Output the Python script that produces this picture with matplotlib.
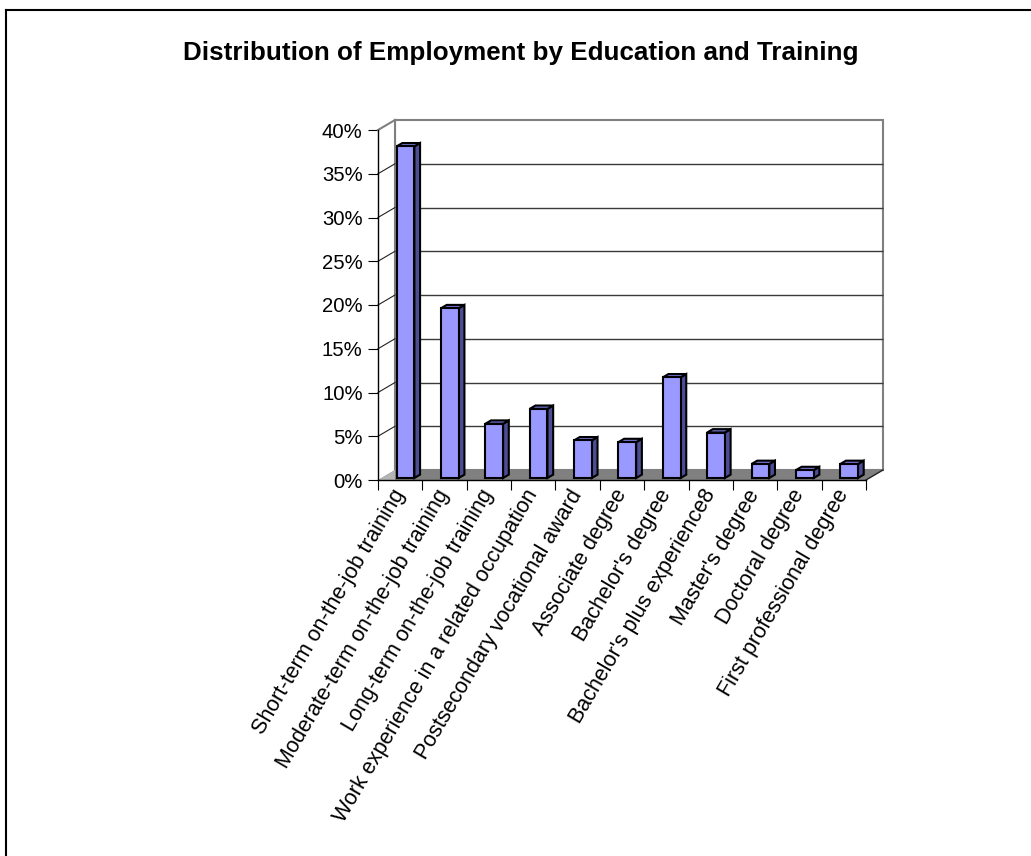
import matplotlib
matplotlib.use("Agg")
import matplotlib.pyplot as plt
from matplotlib.patches import Polygon, Rectangle
from matplotlib.lines import Line2D
from matplotlib.ticker import FuncFormatter, FixedLocator

plt.rcParams['font.family'] = ['Liberation Sans', 'DejaVu Sans']

# education / training categories and their share of employment (%)
categories = [
    "Short-term on-the-job training",
    "Moderate-term on-the-job training",
    "Long-term on-the-job training",
    "Work experience in a related occupation",
    "Postsecondary vocational award",
    "Associate degree",
    "Bachelor's degree",
    "Bachelor's plus experience8",
    "Master's degree",
    "Doctoral degree",
    "First professional degree",
]
shares = [37.9, 19.4, 6.2, 7.9, 4.3, 4.1, 11.5, 5.2, 1.6, 0.9, 1.6]
y_ticks = [0, 5, 10, 15, 20, 25, 30, 35, 40]

W, H = 1031, 856
fig = plt.figure(figsize=(W / 100, H / 100), dpi=100)

# front plane of the plot: x 378..866 px, y 480..130 px
ax = fig.add_axes([378 / W, (H - 480) / H, 488 / W, 350 / H])
n = len(categories)
ax.set_xlim(0, n)
ax.set_ylim(0, 40)
ax.patch.set_visible(False)

# depth vector of the fake 3-D box, in data units
px_x = 488 / n
px_y = 350 / 40
DX = 17 / px_x
DY = 10 / px_y

# back wall
ax.add_patch(Rectangle((DX, DY), n, 40, facecolor='white', edgecolor='#808080',
                       lw=1.5, clip_on=False, zorder=1))
ax.hlines([t + DY for t in y_ticks[1:-1]], DX, n + DX, colors='#3a3a3a',
          lw=1.0, clip_on=False, zorder=2)

# left wall
ax.add_patch(Polygon([(0, 0), (DX, DY), (DX, 40 + DY), (0, 40)], closed=True,
                     facecolor='white', edgecolor='none', clip_on=False, zorder=1))
ax.add_line(Line2D([0, DX], [40, 40 + DY], color='#808080', lw=1.5,
                   clip_on=False, zorder=2))
ax.add_line(Line2D([DX, DX], [DY, 40 + DY], color='#808080', lw=1.5,
                   clip_on=False, zorder=2))
for t in y_ticks[1:-1]:
    ax.add_line(Line2D([0, DX], [t, t + DY], color='#222222', lw=0.8,
                       clip_on=False, zorder=2))

# floor
ax.add_patch(Polygon([(0, 0), (n, 0), (n + DX, DY), (DX, DY)], closed=True,
                     facecolor='#808080', edgecolor='none', clip_on=False, zorder=3))
ax.add_patch(Polygon([(0, 0), (DX, DY), (DX, 0)], closed=True,
                     facecolor='#b4b4b4', edgecolor='none', clip_on=False, zorder=3))
ax.add_line(Line2D([n, n + DX], [0, DY], color='#222222', lw=1.0,
                   clip_on=False, zorder=4))

# columns
f0, f1 = 0.2, 0.535
bw = 0.4
for i, v in enumerate(shares):
    x0 = i + 0.42
    x1 = x0 + bw
    y0 = f0 * DY
    y1 = v + f0 * DY
    ddx = (f1 - f0) * DX
    ddy = (f1 - f0) * DY
    kw = dict(closed=True, edgecolor='black', lw=1.5, joinstyle='miter',
              clip_on=False, zorder=5)
    ax.add_patch(Polygon([(x1, y0), (x1 + ddx, y0 + ddy), (x1 + ddx, y1 + ddy),
                          (x1, y1)], facecolor='#4d4d96', **kw))
    ax.add_patch(Polygon([(x0, y1), (x1, y1), (x1 + ddx, y1 + ddy),
                          (x0 + ddx, y1 + ddy)], facecolor='#7070cc', **kw))
    ax.add_patch(Polygon([(x0, y0), (x1, y0), (x1, y1), (x0, y1)],
                         facecolor='#9999ff', **kw))

# axes, ticks and labels
for s in ['top', 'right']:
    ax.spines[s].set_visible(False)
for s in ['left', 'bottom']:
    ax.spines[s].set_color('black')
    ax.spines[s].set_linewidth(1.0)
    ax.spines[s].set_zorder(6)

ax.set_yticks(y_ticks)
ax.yaxis.set_major_formatter(FuncFormatter(lambda v, p: f"{int(v)}%"))
ax.tick_params(axis='y', direction='out', length=7.5, width=0.8, pad=3.5,
               labelsize=14.6, colors='black')

ax.xaxis.set_major_locator(FixedLocator(list(range(n + 1))))
ax.xaxis.set_minor_locator(FixedLocator([i + 0.5 for i in range(n)]))
ax.set_xticklabels([])
ax.set_xticklabels(categories, minor=True)
ax.tick_params(axis='x', which='major', direction='out', length=7.5, width=0.8)
ax.tick_params(axis='x', which='minor', length=0, pad=8, labelsize=15.5)
for lab in ax.get_xticklabels(minor=True):
    lab.set_rotation(59.5)
    lab.set_rotation_mode('anchor')
    lab.set_ha('right')
    lab.set_va('center')

fig.text(521 / W, 1 - 53 / H, "Distribution of Employment by Education and Training",
         ha='center', va='center', fontsize=18.7, fontweight='bold')

# chart frame
fig.add_artist(Line2D([6 / W, 1], [1 - 10 / H, 1 - 10 / H],
                      transform=fig.transFigure, color='black', lw=1.5))
fig.add_artist(Line2D([6 / W, 6 / W], [0, 1 - 10 / H],
                      transform=fig.transFigure, color='black', lw=1.5))

fig.savefig("out.png", dpi=100)
